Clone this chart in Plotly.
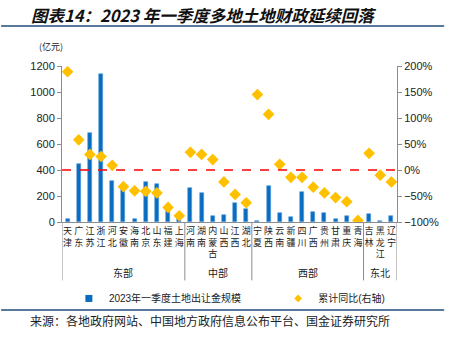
import plotly.graph_objects as go

provinces = ["天津", "广东", "江苏", "浙江", "河北", "安徽", "海南", "北京", "山东", "福建", "上海",
             "河南", "湖南", "内蒙古", "山西", "江西", "湖北",
             "宁夏", "陕西", "云南", "新疆", "四川", "广西", "贵州", "甘肃", "重庆", "青海",
             "吉林", "黑龙江", "辽宁"]
land_sales = [20, 445, 684, 1135, 319, 258, 26, 306, 290, 103, 20,
              262, 221, 49, 52, 147, 98,
              10, 278, 72, 42, 229, 77, 72, 21, 46, 6,
              62, 8, 49]
yoy = [1.89, 0.58, 0.30, 0.26, 0.09, -0.32, -0.40, -0.41, -0.44, -0.72, -0.88,
       0.34, 0.30, 0.20, -0.23, -0.47, -0.63,
       1.45, 1.07, 0.11, -0.14, -0.14, -0.33, -0.44, -0.53, -0.61, -0.97,
       0.32, -0.10, -0.23]
groups = ["东部", "中部", "西部", "东北"]
group_sizes = [11, 6, 10, 3]

BAR_NAME = "2023年一季度土地出让金规模"
YOY_NAME = "累计同比(右轴)"
BAR_COLOR = "#0a6cc0"
YOY_COLOR = "#FFC000"

xs = list(range(len(provinces)))
ticktext = ["<br>".join(list(p)) for p in provinces]

# plot area geometry in pixels
L, R, T, B = 62, 403, 66, 221.7
W, H = 451, 337
def px_x(px):
    return (px - L) / (R - L)
def px_y(py):
    return (B - py) / (B - T)

fig = go.Figure()
fig.add_trace(go.Bar(x=xs, y=land_sales, name=BAR_NAME, showlegend=False,
                     marker=dict(color=BAR_COLOR, line=dict(width=0.6, color="#5aa0dc")),
                     width=0.36))
fig.add_trace(go.Scatter(x=xs, y=yoy, name=YOY_NAME, mode="markers", yaxis="y2",
                         showlegend=False,
                         marker=dict(symbol="diamond", size=9, color=YOY_COLOR)))
# legend entries
fig.add_trace(go.Scatter(x=[None], y=[None], name=BAR_NAME, mode="markers",
                         marker=dict(symbol="square", size=7, color=BAR_COLOR), legend="legend"))
fig.add_trace(go.Scatter(x=[None], y=[None], name=YOY_NAME, mode="markers", yaxis="y2",
                         marker=dict(symbol="diamond", size=6, color=YOY_COLOR), legend="legend2"))

axis_col = "#8c8c8c"
legend_font = dict(size=10, family="Liberation Sans, Noto Sans CJK SC", color="#222")
fig.update_layout(
    width=W, height=H,
    margin=dict(l=L, r=W - R, t=T, b=H - B),
    paper_bgcolor="white", plot_bgcolor="white",
    font=dict(family="Liberation Sans, Noto Sans CJK SC", size=11, color="#222"),
    bargap=0,
    showlegend=True,
    legend=dict(x=px_x(69), xanchor="left", y=px_y(298), yanchor="middle",
                font=legend_font, itemwidth=30, bgcolor="rgba(0,0,0,0)"),
    legend2=dict(x=px_x(282), xanchor="left", y=px_y(298), yanchor="middle",
                 font=legend_font, itemwidth=30, bgcolor="rgba(0,0,0,0)"),
    xaxis=dict(range=[-0.5, 29.5], tickmode="array", tickvals=xs, ticktext=ticktext,
               tickangle=0, ticks="", showline=True, linecolor=axis_col, linewidth=1,
               showgrid=False, zeroline=False,
               tickfont=dict(size=9, family="Noto Sans CJK SC", color="#222")),
    yaxis=dict(range=[0, 1200], dtick=200, showgrid=False, zeroline=False,
               showline=True, linecolor=axis_col, linewidth=1, ticks="outside",
               ticklen=4, tickcolor=axis_col, tickfont=dict(size=11)),
    yaxis2=dict(range=[-1, 2], dtick=0.5, tickformat=".0%", overlaying="y", side="right",
                showgrid=False, zeroline=False, showline=True, linecolor=axis_col,
                linewidth=1, ticks="outside", ticklen=4, tickcolor=axis_col,
                tickfont=dict(size=11)),
)

# zero line of YoY
fig.add_shape(type="line", xref="paper", yref="y2", x0=0, x1=1, y0=0, y1=0,
              line=dict(color="#FF0000", width=1.5, dash="dash"))

# group separators and labels
bounds = [-0.5]
for s in group_sizes:
    bounds.append(bounds[-1] + s)
for b in bounds:
    fig.add_shape(type="line", xref="x", yref="paper", x0=b, x1=b, y0=0, y1=px_y(280),
                  line=dict(color=axis_col, width=1))
for i, g in enumerate(groups):
    fig.add_annotation(x=(bounds[i] + bounds[i + 1]) / 2, y=px_y(272), xref="x", yref="paper",
                       text=g, showarrow=False, font=dict(size=10, family="Noto Sans CJK SC"),
                       yanchor="middle")

# title and decorations
fig.add_annotation(x=px_x(28), y=px_y(15), xref="paper", yref="paper",
                   text="<b><i>图表14：2023 年一季度多地土地财政延续回落</i></b>",
                   showarrow=False, xanchor="left", yanchor="middle",
                   font=dict(size=16.5, family="Noto Sans CJK SC", color="#111"))
fig.add_annotation(x=px_x(37), y=px_y(47), xref="paper", yref="paper",
                   text="(亿元)", showarrow=False, xanchor="left", yanchor="middle",
                   font=dict(size=9, family="Noto Sans CJK SC", color="#222"))
fig.add_annotation(x=px_x(27), y=px_y(320), xref="paper", yref="paper",
                   text="来源：各地政府网站、中国地方政府信息公布平台、国金证券研究所",
                   showarrow=False, xanchor="left", yanchor="middle",
                   font=dict(size=12, family="Noto Sans CJK SC", color="#222"))
for yy in (26, 309.5):
    fig.add_shape(type="line", xref="paper", yref="paper", x0=px_x(0), x1=px_x(W),
                  y0=px_y(yy), y1=px_y(yy),
                  line=dict(color="#1F4E79", width=1.5))

fig.write_html("out.html")
